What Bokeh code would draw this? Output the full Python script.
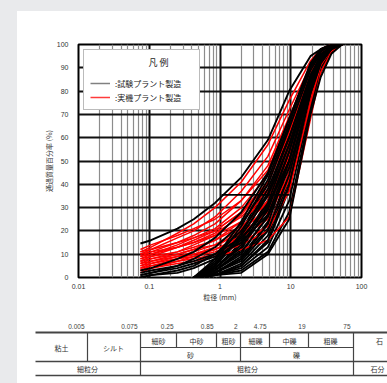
from bokeh.plotting import figure
from bokeh.models import (Range1d, FixedTicker, Legend, LegendItem, Grid,
                          ColumnDataSource)
from bokeh.layouts import column
from bokeh.embed import file_html
from bokeh.resources import INLINE
from bokeh.core.properties import value

# ---------------- data ----------------
SIEVE_FULL = [0.075, 0.106, 0.25, 0.425, 0.85, 2, 4.75, 9.5, 19, 26.5, 37.5, 53]
SIEVE_COARSE = [0.425, 0.85, 2, 4.75, 9.5, 19, 26.5, 37.5, 53]

# 試験プラント製造 (black) – curves measured from 0.075 mm
black_fine = [
    [14.6, 16, 21, 25, 32, 43, 59, 80, 95, 98, 100, 100],
    [3, 4, 8, 11, 17, 28, 45, 68, 90, 97, 100, 100],
    [1, 2, 5, 8, 13, 23, 40, 64, 89, 96, 99, 100],
    [0, 1, 3, 5, 10, 20, 36, 60, 87, 95, 99, 100],
    [2, 3, 5, 7, 10, 17, 30, 54, 85, 95, 99, 100],
    [0, 1, 2, 4, 8, 16, 32, 57, 86, 95, 99, 100],
    [1, 2, 4, 6, 9, 15, 27, 50, 83, 94, 99, 100],
]
# 試験プラント製造 (black) – curves measured from 0.425 mm
black_coarse = [
    [0, 6, 20, 40, 65, 90, 97, 100, 100],
    [0, 5, 17, 36, 62, 89, 96, 100, 100],
    [0, 4, 15, 33, 58, 87, 96, 99, 100],
    [0, 3, 12, 30, 55, 86, 95, 99, 100],
    [0, 3, 10, 27, 52, 84, 95, 99, 100],
    [0, 2, 9, 24, 48, 82, 94, 99, 100],
    [0, 2, 8, 21, 45, 80, 93, 98, 100],
    [0, 1, 6, 18, 42, 78, 92, 98, 100],
    [0, 1, 5, 15, 38, 76, 91, 98, 100],
    [0, 1, 4, 13, 33, 74, 90, 97, 100],
    [0, 1, 3, 11, 28, 72, 88, 97, 100],
    [0, 1, 2, 10, 25, 70, 86, 96, 100],
    [0, 7, 22, 42, 66, 91, 97, 100, 100],
    [0, 8, 24, 44, 68, 92, 98, 100, 100],
    [0, 4, 13, 29, 54, 85, 95, 99, 100],
    [0, 2, 7, 20, 44, 80, 93, 98, 100],
    [0, 5, 19, 38, 60, 86, 95, 99, 100],
    [0, 3, 11, 26, 47, 79, 92, 98, 100],
    [0, 6, 18, 35, 57, 83, 94, 99, 100],
    [0, 2, 8, 23, 50, 85, 95, 100, 100],
    [0, 4, 14, 31, 50, 81, 93, 99, 100],
    [0, 1, 5, 16, 40, 79, 92, 98, 100],
]
# 実機プラント製造 (red)
red_fine = [
    [11, 13, 19, 23, 30, 41, 57, 76, 93, 98, 100, 100],
    [10, 12, 17, 20, 26, 37, 52, 72, 91, 98, 100, 100],
    [9, 11, 15, 18, 23, 33, 48, 69, 90, 97, 100, 100],
    [8, 10, 14, 17, 21, 30, 44, 66, 89, 97, 100, 100],
    [7, 9, 13, 16, 20, 28, 41, 63, 88, 97, 99, 100],
    [12, 14, 18, 21, 25, 33, 46, 68, 91, 98, 100, 100],
    [6, 8, 11, 14, 18, 27, 40, 62, 87, 96, 100, 100],
    [5, 7, 10, 12, 16, 24, 37, 60, 87, 97, 100, 100],
    [9, 10, 13, 15, 19, 26, 38, 58, 85, 95, 99, 100],
    [4, 6, 9, 11, 14, 21, 33, 55, 84, 95, 99, 100],
    [3, 5, 8, 10, 13, 20, 30, 52, 83, 94, 99, 100],
    [8, 9, 11, 13, 16, 22, 32, 54, 83, 94, 99, 100],
    [2, 4, 7, 9, 12, 18, 28, 49, 81, 94, 99, 100],
    [7, 8, 10, 12, 14, 19, 28, 47, 79, 93, 98, 100],
    [6, 7, 9, 10, 12, 17, 25, 45, 79, 92, 98, 100],
    [10, 11, 13, 15, 18, 24, 35, 59, 87, 97, 100, 100],
    [5, 6, 8, 9, 11, 15, 22, 42, 77, 92, 98, 100],
    [3, 4, 6, 7, 9, 12, 16, 26, 68, 88, 97, 100],
    [11, 12, 15, 17, 20, 28, 41, 63, 89, 97, 100, 100],
    [4, 5, 7, 8, 10, 14, 20, 37, 75, 91, 98, 100],
]
guide_x = [1.05, 9.6]
guide_y = [35.5, 35.5]

x_ticks = [0.01, 0.1, 1, 10, 100]
x_tick_labels = ["0.01", "0.1", "1", "10", "100"]
y_ticks = [0, 10, 20, 30, 40, 50, 60, 70, 80, 90, 100]

legend_title = "凡 例"
legend_labels = [":試験プラント製造", ":実機プラント製造"]

bound_labels = ["0.005", "0.075", "0.25", "0.85", "2", "4.75", "19", "75"]
row1_names = ["細砂", "中砂", "粗砂", "細礫", "中礫", "粗礫", "石"]
row_left_names = ["粘土", "シルト"]
row2_names = ["砂", "礫"]
row3_names = ["細粒分", "粗粒分", "石分"]

JP = "Noto Sans CJK JP"
NUM = "Liberation Sans"

# ---------------- chart ----------------
p = figure(width=370, height=300, x_axis_type="log",
           x_range=Range1d(0.01, 100), y_range=Range1d(0, 100),
           output_backend="svg", toolbar_location=None,
           min_border_left=61, min_border_right=26,
           min_border_top=33, min_border_bottom=34)
p.frame_align = False
p.outline_line_color = "black"
p.outline_line_width = 2
p.background_fill_color = "white"
p.border_fill_color = "white"

minor = [k * 10.0 ** e for e in range(-2, 2) for k in range(2, 10)]
p.xgrid.ticker = FixedTicker(ticks=minor)
p.xgrid.grid_line_color = "#8c8c8c"
p.xgrid.grid_line_width = 1.2
p.add_layout(Grid(dimension=0, ticker=FixedTicker(ticks=[0.1, 1, 10]),
                  grid_line_color="#111111", grid_line_width=2))
p.ygrid.ticker = FixedTicker(ticks=y_ticks[1:-1])
p.ygrid.grid_line_color = "#111111"
p.ygrid.grid_line_width = 2

p.xaxis.ticker = FixedTicker(ticks=x_ticks)
p.xaxis.major_label_overrides = {t: l for t, l in zip(x_ticks, x_tick_labels)}
p.yaxis.ticker = FixedTicker(ticks=y_ticks)
for ax in (p.xaxis[0], p.yaxis[0]):
    ax.axis_line_color = None
    ax.major_tick_line_color = None
    ax.minor_tick_line_color = None
    ax.major_tick_out = 0
    ax.major_tick_in = 0
    ax.minor_tick_out = 0
    ax.minor_tick_in = 0
    ax.major_label_text_font = NUM
    ax.major_label_text_font_size = "7px"
    ax.major_label_text_color = "#333333"
    ax.axis_label_text_font = JP
    ax.axis_label_text_font_size = "7px"
    ax.axis_label_text_font_style = "normal"
    ax.axis_label_text_color = "#333333"
p.yaxis.major_label_standoff = 10
p.xaxis.major_label_standoff = 6
p.xaxis.axis_label = "粒径 (mm)"
p.yaxis.axis_label = "通過質量百分率 (%)"
p.xaxis.axis_label_standoff = 0
p.yaxis.axis_label_standoff = 0

def draw(xs, ys, color, width):
    p.multi_line(xs="xs", ys="ys", source=ColumnDataSource(dict(xs=xs, ys=ys)),
                 line_color=color, line_width=width)

half = len(black_coarse) // 2
draw([SIEVE_COARSE] * half, black_coarse[:half], "black", 1.9)
draw([SIEVE_FULL] * len(red_fine), red_fine, "#ff0000", 1.5)
draw([SIEVE_COARSE] * (len(black_coarse) - half), black_coarse[half:], "black", 1.9)
draw([SIEVE_FULL] * len(black_fine), black_fine, "black", 1.9)
p.line(guide_x, guide_y, line_color="black", line_width=1.8)

nan = float("nan")
lg_black = p.line(x=[nan], y=[nan], line_color="#808080", line_width=1.5)
lg_red = p.line(x=[nan], y=[nan], line_color="#ff3b3b", line_width=1.5)
legend = Legend(items=[LegendItem(label=legend_labels[0], renderers=[lg_black]),
                       LegendItem(label=legend_labels[1], renderers=[lg_red])],
                location="top_left", margin=5, padding=6, spacing=2,
                glyph_width=20, glyph_height=12, label_standoff=5, label_width=78,
                label_text_font=JP, label_text_font_size="8px", label_text_color="#222222",
                title="\u3000" * 6 + "\u2002" + legend_title,
                title_text_font=JP, title_text_font_size="9px",
                title_text_color="#222222", title_text_font_style="normal",
                title_standoff=8,
                border_line_color="#777777", border_line_width=1.5,
                background_fill_color="white", background_fill_alpha=1)
p.add_layout(legend)

# ---------------- classification table ----------------
t = figure(width=370, height=72, x_range=Range1d(17, 387), y_range=Range1d(383, 311),
           x_axis_type=None, y_axis_type=None, output_backend="svg",
           toolbar_location=None, min_border=0)
t.frame_align = False
t.outline_line_color = None
t.grid.visible = False
t.background_fill_color = "white"
t.border_fill_color = "white"

bx = [87, 140, 176, 216, 240, 269, 308, 353]
h_x0 = [35, 140, 35, 35]
h_x1 = [387, 353, 387, 387]
h_y = [332, 347, 361, 375]
h_w = [2, 1.2, 1.4, 1.6]
t.segment(x0=h_x0, y0=h_y, x1=h_x1, y1=h_y, line_color="#444444", line_width=h_w)
v_y1 = [361, 375, 347, 347, 361, 347, 347, 375]
t.segment(x0=bx, y0=[332] * len(bx), x1=bx, y1=v_y1, line_color="#444444", line_width=1.2)

t.text(x=[b - 3 for b in bx], y=[326] * len(bx), text=bound_labels,
       text_font=value(NUM), text_font_size="6.5px", text_color="#444444",
       text_align="right", text_baseline="middle")
txt_style = dict(text_font=value(JP), text_font_size="7px", text_color="#333333",
                 text_align="center", text_baseline="middle")
t.text(x=[158, 196, 228, 255, 289, 330, 379], y=[340] * 7, text=row1_names, **txt_style)
t.text(x=[61, 113], y=[347, 347], text=row_left_names, **txt_style)
t.text(x=[190, 296], y=[354, 354], text=row2_names, **txt_style)
t.text(x=[87, 247, 377], y=[368, 368, 368], text=row3_names, **txt_style)

layout = column(p, t, margin=(11, 0, 0, 17), spacing=0)

html = file_html(layout, INLINE)
css = ("<style>body{background:linear-gradient(#e9eaec,#e9eaec) left top/17px 100% no-repeat,"
       "linear-gradient(#e9eaec,#e9eaec) left top/100% 11px no-repeat,#ffffff;}</style>")
html = html.replace("</head>", css + "</head>", 1)
open("out.html", "w").write(html)
